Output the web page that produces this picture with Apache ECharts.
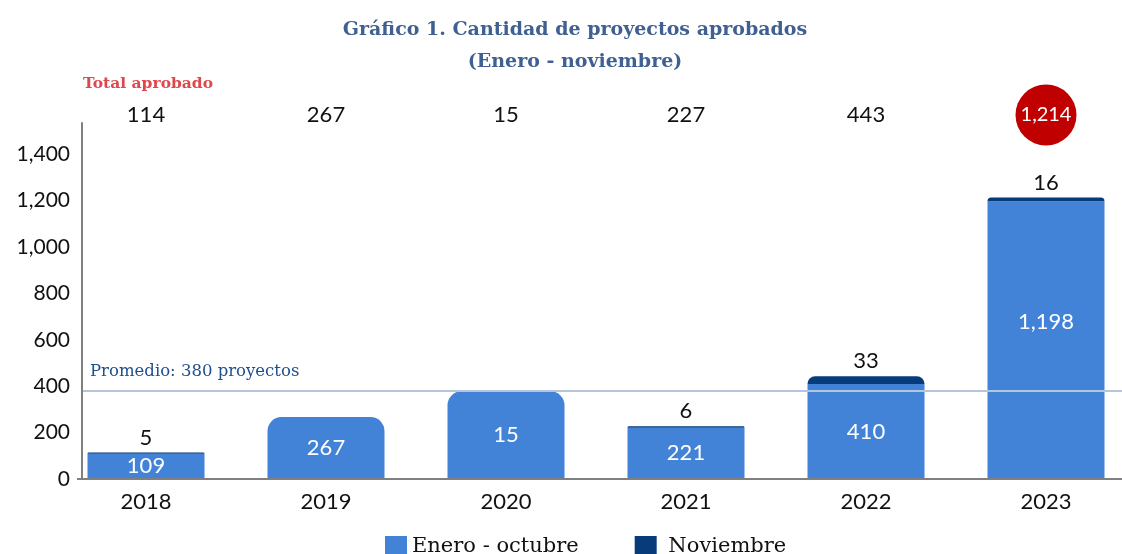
<!DOCTYPE html>
<html>
<head>
<meta charset="utf-8">
<script src="https://cdn.jsdelivr.net/npm/echarts@6/dist/echarts.min.js"></script>
<style>
  html, body { margin: 0; padding: 0; background: #fff; }
  #chart { width: 1122px; height: 554px; }
</style>
</head>
<body>
<div id="chart"></div>
<script>
// datos
const years = ['2018', '2019', '2020', '2021', '2022', '2023'];
const eneroOct = [109, 267, 378, 221, 410, 1198];
const eneroOctLabels = ['109', '267', '15', '221', '410', '1,198'];
const noviembre = [5, 0, 0, 6, 33, 16];
const totals = [114, 267, 15, 227, 443, 1214];
const promedio = 380;

const BLUE = '#4283D7';
const NAVY = '#073B7A';
const fmt = v => Number(v).toLocaleString('en-US');

let chart = echarts.init(document.getElementById('chart'));

let option = {
  backgroundColor: '#fff',
  animation: false,
  title: [
    {
      text: 'Gráfico 1. Cantidad de proyectos aprobados\n(Enero - noviembre)',
      left: 570,
      top: 9,
      textAlign: 'center',
      textStyle: { fontFamily: 'DejaVu Serif', fontWeight: 'bold', fontSize: 19, lineHeight: 32, color: '#3F6090' }
    },
    {
      text: 'Total aprobado',
      left: 83,
      top: 76,
      padding: 0,
      textStyle: { fontFamily: 'DejaVu Serif', fontWeight: 'bold', fontSize: 15.5, color: '#E0474C' }
    }
  ],
  legend: {
    data: ['Enero - octubre', 'Noviembre'],
    left: 380,
    top: 531,
    itemWidth: 22,
    itemHeight: 22,
    itemGap: 56,
    icon: 'rect',
    formatter: n => (n === 'Noviembre' ? ' ' + n : n),
    textStyle: { fontFamily: 'DejaVu Serif', fontSize: 21, color: '#111' }
  },
  grid: [
    { left: 56, width: 1080, top: 123, bottom: 75, outerBoundsMode: 'none' },
    { left: 56, width: 1080, top: 95, height: 40, outerBoundsMode: 'none' }
  ],
  xAxis: [
    {
      type: 'category',
      data: years,
      axisLine: { show: false },
      axisTick: { show: false },
      axisLabel: { fontFamily: 'Lato', fontSize: 22, color: '#111', margin: 12 }
    },
    {
      type: 'category',
      gridIndex: 1,
      data: years,
      show: false
    }
  ],
  yAxis: [
    {
      type: 'value',
      min: 0,
      max: 1535,
      interval: 200,
      offset: -26,
      axisLine: { show: true, lineStyle: { color: '#808080', width: 2 } },
      axisTick: { show: false },
      splitLine: { show: false },
      axisLabel: { fontFamily: 'Lato', fontSize: 21, color: '#111', margin: 12, showMaxLabel: false, formatter: fmt }
    },
    {
      type: 'category',
      gridIndex: 1,
      data: ['Total'],
      show: false
    }
  ],
  series: [
    {
      name: 'Enero - octubre',
      type: 'bar',
      stack: 'proy',
      barWidth: 117,
      itemStyle: { color: BLUE },
      label: {
        show: true,
        position: 'inside',
        fontFamily: 'Lato',
        fontSize: 22,
        color: '#fff',
        formatter: p => eneroOctLabels[p.dataIndex]
      },
      data: eneroOct.map((v, i) => {
        let item = { value: v };
        if (noviembre[i] === 0) item.itemStyle = { borderRadius: [14, 14, 0, 0] };
        if (i === 5) item.label = { offset: [0, -18] };
        return item;
      }),
      // linea base del eje x
      markLine: {
        silent: true,
        symbol: 'none',
        z: 5,
        lineStyle: { color: '#808080', width: 2, type: 'solid' },
        label: { show: false },
        data: [
          [
            { yAxis: 0, x: 77 },
            { yAxis: 0, x: 1122 }
          ]
        ]
      }
    },
    {
      name: 'Noviembre',
      type: 'bar',
      stack: 'proy',
      barWidth: 117,
      itemStyle: { color: NAVY, borderRadius: [14, 14, 0, 0] },
      label: {
        show: true,
        position: 'top',
        distance: 4,
        fontFamily: 'Lato',
        fontSize: 22,
        color: '#111',
        formatter: p => (p.value > 0 ? fmt(p.value) : '')
      },
      data: noviembre,
      markLine: {
        silent: true,
        symbol: 'none',
        z: 6,
        lineStyle: { color: '#B4C6DC', width: 2, type: 'solid' },
        label: {
          show: true,
          position: 'insideStartTop',
          distance: [7, 11],
          formatter: 'Promedio: ' + promedio + ' proyectos',
          fontFamily: 'DejaVu Serif',
          fontSize: 16.5,
          color: '#1F4E8C'
        },
        data: [
          [
            { yAxis: promedio, x: 83 },
            { yAxis: promedio, x: 1122 }
          ]
        ]
      }
    },
    {
      name: 'Total',
      type: 'scatter',
      xAxisIndex: 1,
      yAxisIndex: 1,
      clip: false,
      itemStyle: { opacity: 1 },
      data: years.map((y, i) => {
        let last = i === totals.length - 1;
        return {
          value: [y, 'Total'],
          symbol: 'circle',
          symbolSize: last ? 61 : 0,
          itemStyle: { color: '#C00000', opacity: 1 },
          label: { color: last ? '#fff' : '#111', fontSize: last ? 20 : 22 }
        };
      }),
      label: {
        show: true,
        position: 'inside',
        fontFamily: 'Lato',
        formatter: p => fmt(totals[p.dataIndex])
      }
    }
  ]
};

chart.setOption(option);
</script>
</body>
</html>
